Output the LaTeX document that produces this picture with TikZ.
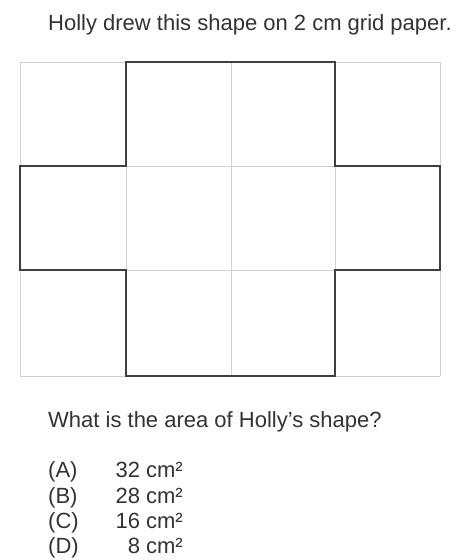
\documentclass[tikz,border=0pt]{standalone}
\usepackage{fontspec}
\setmainfont{Liberation Sans}
\begin{document}
\begin{tikzpicture}[x=1pt,y=-1pt,
  gridline/.style={draw=black!18,line width=0.6pt},
  outline/.style={draw=black!75,line width=1.6pt,line join=miter},
  txt/.style={anchor=base west,inner sep=0pt,text=black!80,font=\fontsize{22}{25}\selectfont},
  opt/.style={anchor=base west,inner sep=0pt,text=black!80,font=\fontsize{22}{25}\selectfont},
  val/.style={anchor=base east,inner sep=0pt,text=black!80,font=\fontsize{22}{25}\selectfont}]
\useasboundingbox[fill=white] (0,0) rectangle (457,560);
% grid
\foreach \x in {20,126,231,335,440} \draw[gridline] (\x,62) -- (\x,376);
\foreach \y in {62,166,270,376} \draw[gridline] (20,\y) -- (440,\y);
% shape
\draw[outline] (126,62) -- (335,62) -- (335,166) -- (440,166) -- (440,270) -- (335,270) -- (335,376) -- (126,376) -- (126,270) -- (20,270) -- (20,166) -- (126,166) -- cycle;
% texts
\node[txt] (title) at (48,30) {Holly drew this shape on 2 cm grid paper.};
\node[txt] (question) at (48,427) {What is the area of Holly’s shape?};
\node[opt] (oa) at (48,477) {(A)};
\node[opt] (ob) at (48,503) {(B)};
\node[opt] (oc) at (48,528) {(C)};
\node[opt] (od) at (48,553) {(D)};
\node[val] (va) at (183,477) {32 cm²};
\node[val] (vb) at (183,503) {28 cm²};
\node[val] (vc) at (183,528) {16 cm²};
\node[val] (vd) at (183,553) {8 cm²};
\end{tikzpicture}
\end{document}
